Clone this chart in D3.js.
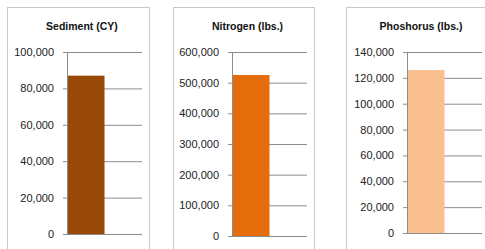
<!DOCTYPE html>
<html>
<head>
<meta charset="utf-8">
<script src="https://cdn.jsdelivr.net/npm/d3@7"></script>
<style>
  body { margin: 0; background: #fff; }
  .tick text { font-family: "Liberation Sans", Arial, sans-serif; font-size: 11px; fill: #222; }
  .title { font-family: "Liberation Sans", Arial, sans-serif; font-size: 10.5px; font-weight: bold; fill: #111; }
</style>
</head>
<body>
<div class="canva"></div>
<script>
// chart data
const titles = ["Sediment (CY)", "Nitrogen (lbs.)", "Phoshorus (lbs.)"];
const values = [87000, 525000, 126000];
const yMax = [100000, 600000, 140000];
const tickStep = [20000, 100000, 20000];
const slots = ["Load", "Blank"];
const colors = ["#984807", "#e46c0a", "#f9bf8f"];

// layout of each panel (box + plot area)
const panels = [
  {bx: 7,   bw: 142, left: 67,  right: 142, top: 52, bottom: 234},
  {bx: 173, bw: 141, left: 232, right: 307, top: 52, bottom: 236},
  {bx: 346, bw: 142, left: 407, right: 482, top: 52, bottom: 233}
];

const svg = d3.select(".canva").append("svg")
  .attr("width", 485)
  .attr("height", 249);

panels.forEach(function(p, i) {
  const g = svg.append("g");

  // panel border
  g.append("rect")
    .attr("x", p.bx + 0.5).attr("y", 7.5)
    .attr("width", p.bw).attr("height", 260)
    .attr("fill", "#fff")
    .attr("stroke", "#c8c8c8");

  // title
  g.append("text")
    .attr("class", "title")
    .attr("x", p.bx + p.bw / 2 + 4)
    .attr("y", 29.5)
    .attr("text-anchor", "middle")
    .text(titles[i]);

  const y = d3.scaleLinear()
    .domain([0, yMax[i]])
    .range([p.bottom, p.top]);

  const x = d3.scaleBand()
    .domain(slots)
    .range([p.left + 1, p.left + 1 + 2 * 36.5])
    .padding(0);

  const ticks = d3.range(0, yMax[i] + 1, tickStep[i]);

  // gridlines
  g.append("g")
    .attr("transform", `translate(${p.left}, 0)`)
    .call(d3.axisRight(y).tickValues(ticks).tickSize(p.right - p.left).tickFormat(""))
    .call(a => a.select(".domain").remove())
    .call(a => a.selectAll(".tick line").attr("stroke", "#8c8c8c"));

  // the bar
  g.append("rect")
    .attr("x", x(slots[0]))
    .attr("y", y(values[i]))
    .attr("width", x.bandwidth())
    .attr("height", p.bottom - y(values[i]))
    .attr("fill", colors[i]);

  // y axis with tick labels
  g.append("g")
    .attr("transform", `translate(${p.left}, 0)`)
    .call(d3.axisLeft(y).tickValues(ticks).tickSize(4).tickSizeOuter(0).tickPadding(9)
      .tickFormat(d3.format(",")))
    .call(a => a.select(".domain").attr("stroke", "#8c8c8c"))
    .call(a => a.selectAll(".tick line").attr("stroke", "#8c8c8c"));
});
</script>
</body>
</html>
